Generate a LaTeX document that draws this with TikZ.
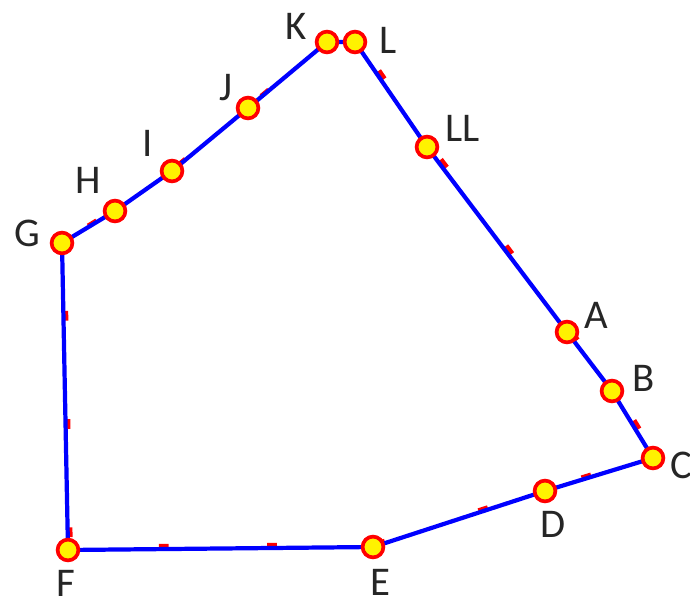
\documentclass[tikz,border=0pt]{standalone}
\usepackage{fontspec}
\setmainfont{Carlito}
\usetikzlibrary{positioning}
\tikzset{
  pt/.style={circle, draw=red, line width=2.6pt, fill=yellow, minimum size=0.52cm, inner sep=0pt},
  lbl/.style={font=\fontsize{29}{34}\selectfont, text=black!85, inner sep=0pt},
  edge/.style={draw=blue, line width=3pt, line join=round},
  ghost/.style={draw=red, line width=3.4pt, dash pattern=on 7pt off 70pt, dash phase=30pt},
}
\begin{document}
\begin{tikzpicture}[x=0.025cm, y=-0.025cm]
  \useasboundingbox (0,0) rectangle (690,605);
  % corner points
  \coordinate (k) at (327,42);
  \coordinate (l) at (355,42);
  \coordinate (ll) at (427,147);
  \coordinate (a) at (567,332);
  \coordinate (b) at (612,391);
  \coordinate (c) at (653,458);
  \coordinate (d) at (545,491);
  \coordinate (e) at (373,547);
  \coordinate (f) at (68,550);
  \coordinate (g) at (62,243);
  \coordinate (h) at (115,211);
  \coordinate (i) at (172,171);
  \coordinate (j) at (248,108);
  % red dashed trace under the outline
  \draw[ghost, transform canvas={shift={(0.06cm,0.07cm)}}] (k) -- (l) -- (ll) -- (a) -- (b) -- (c) -- (d) -- (e) -- (f) -- (g) -- (h) -- (i) -- (j) -- cycle;
  % blue outline
  \draw[edge] (k) -- (l) -- (ll) -- (a) -- (b) -- (c) -- (d) -- (e) -- (f) -- (g) -- (h) -- (i) -- (j) -- cycle;
  % markers
  \foreach \p in {k,l,ll,a,b,c,d,e,f,g,h,i,j}
    \node[pt] (m\p) at (\p) {};
  % labels
  \node[lbl] (tk) at (296,26) {K};
  \node[lbl] (tl) at (388,40) {L};
  \node[lbl] (tll) at (463,128) {LL};
  \node[lbl] (ta) at (596,315) {A};
  \node[lbl] (tb) at (644,378) {B};
  \node[lbl, anchor=west] (tc) at (670,465) {C};
  \node[lbl] (td) at (553,524) {D};
  \node[lbl] (te) at (380,582) {E};
  \node[lbl] (tf) at (66,583) {F};
  \node[lbl] (tg) at (27,233) {G};
  \node[lbl] (th) at (88,180) {H};
  \node[lbl] (ti) at (148,143) {I};
  \node[lbl] (tj) at (226,88) {J};
\end{tikzpicture}
\end{document}
